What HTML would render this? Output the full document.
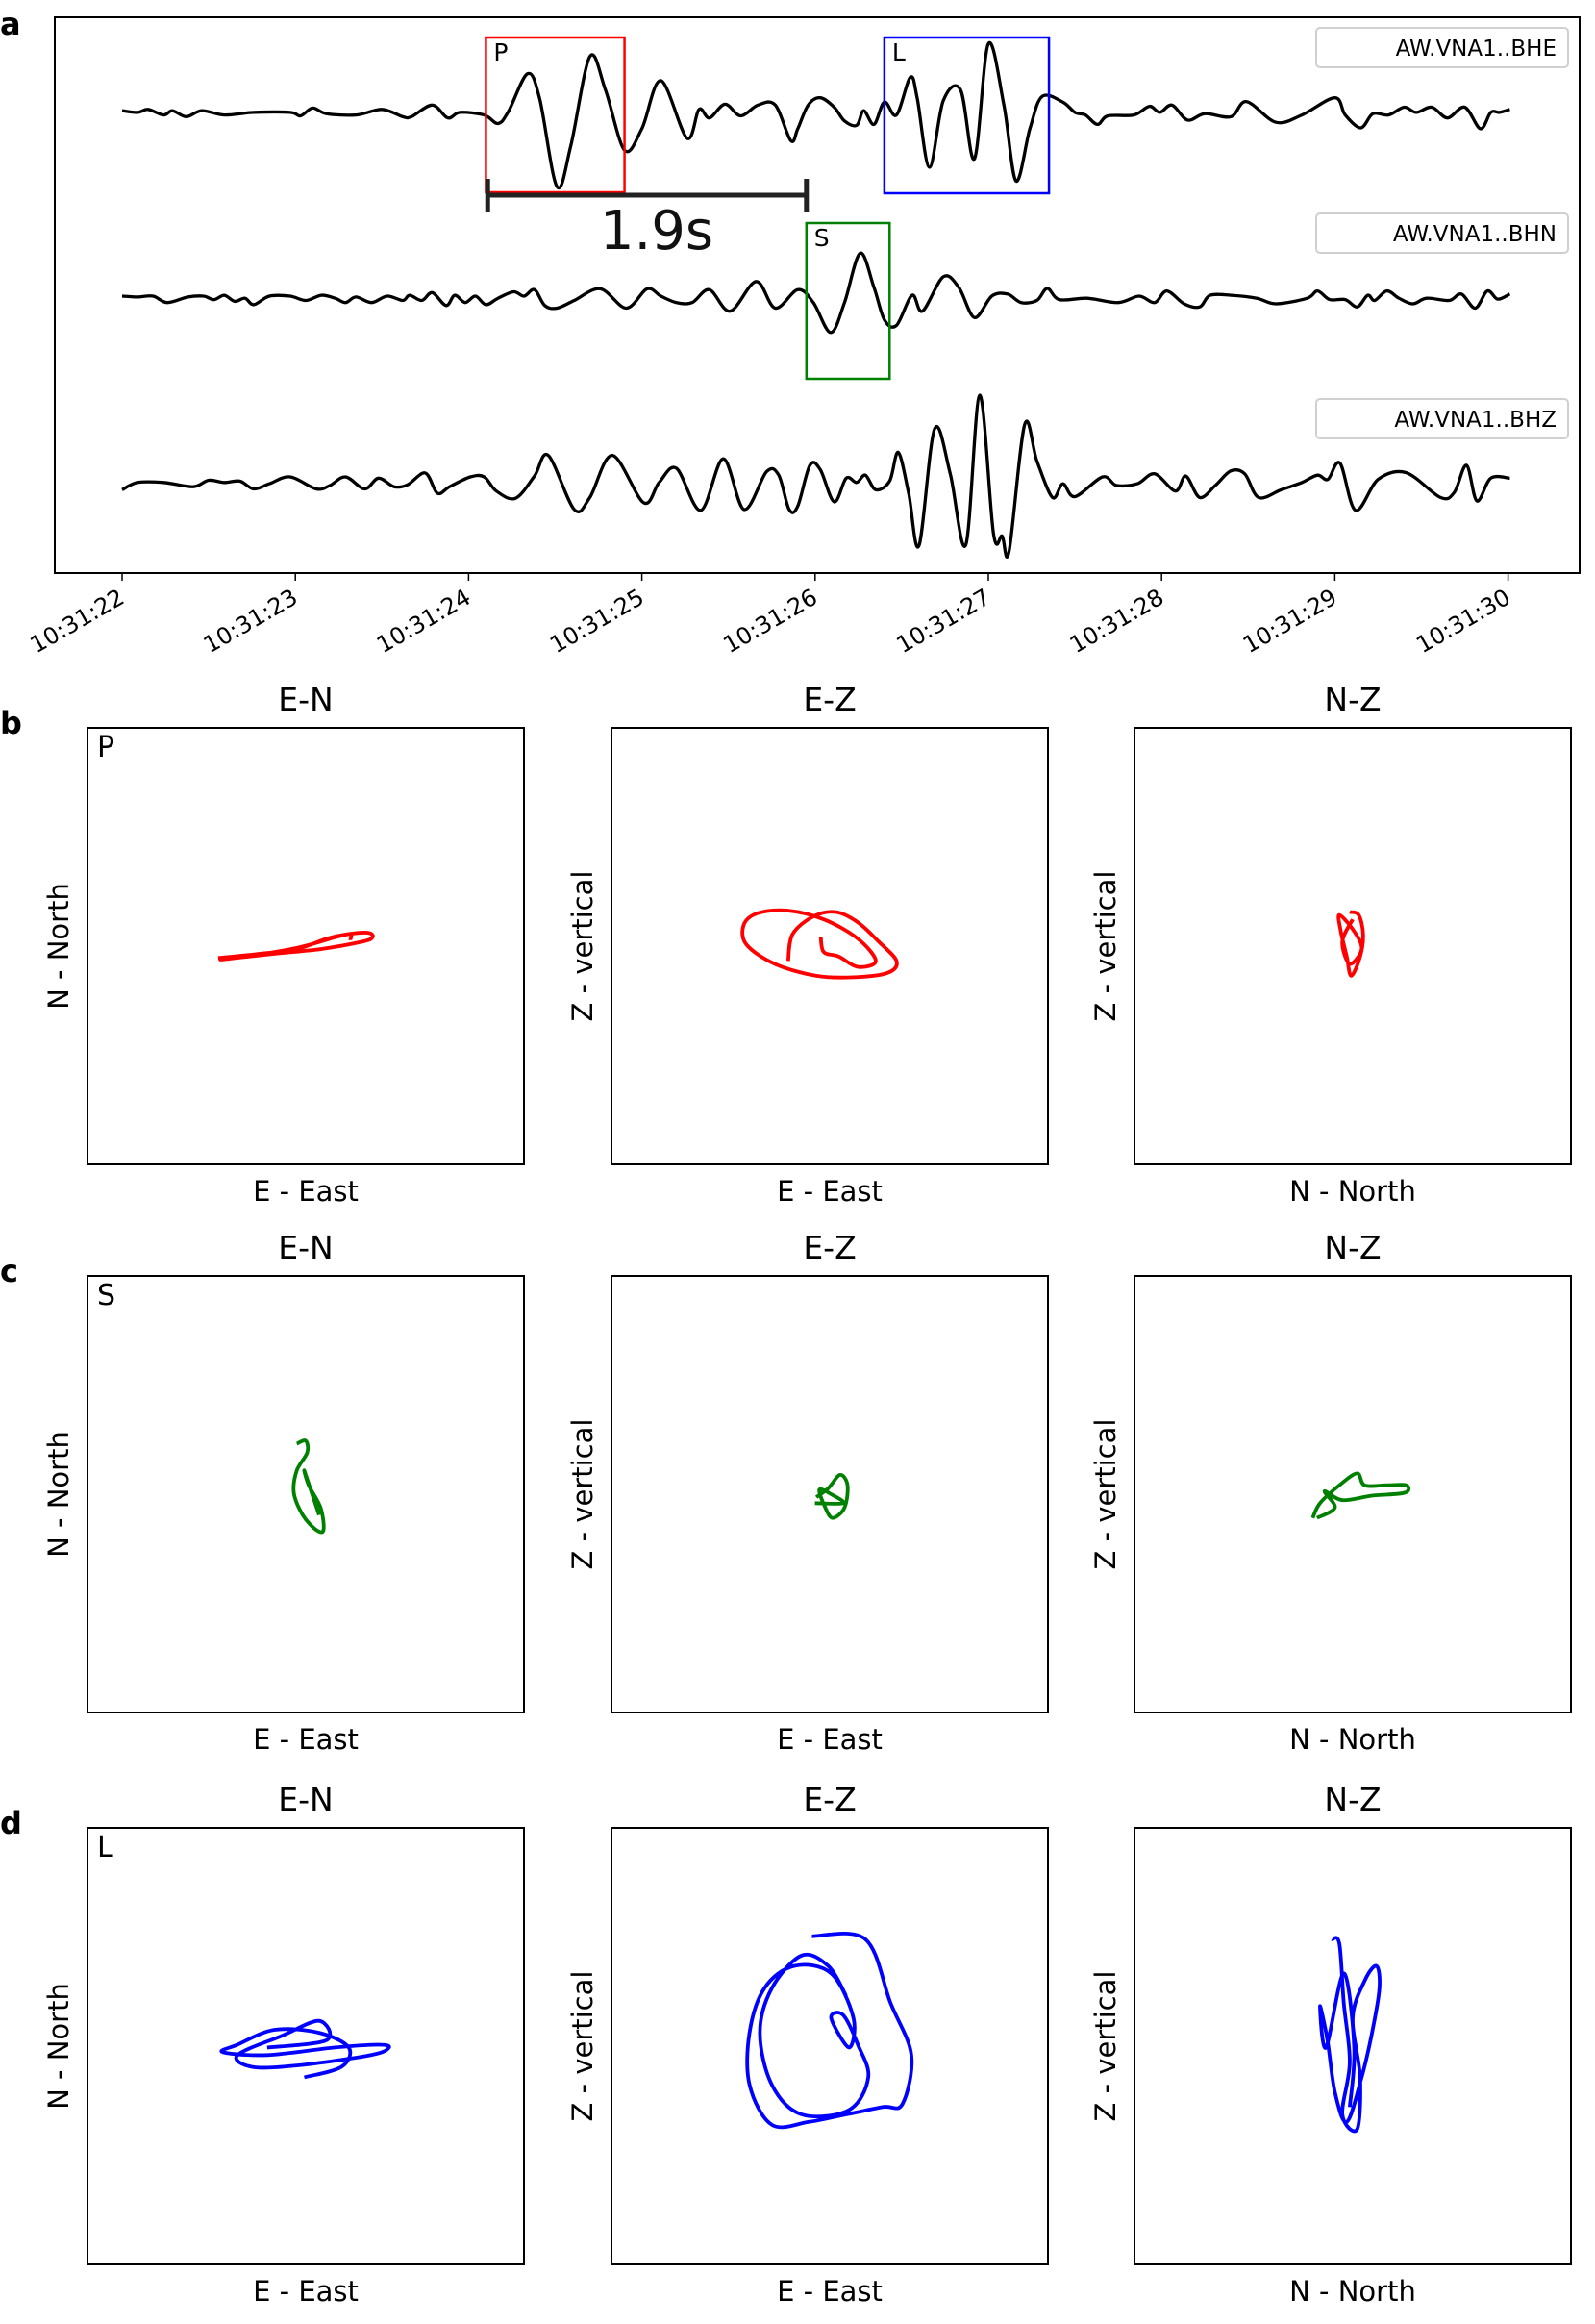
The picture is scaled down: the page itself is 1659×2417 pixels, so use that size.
<!DOCTYPE html>
<html><head><meta charset="utf-8"><style>
html,body{margin:0;padding:0;background:#fff;}
svg{display:block;font-family:"DejaVu Sans","Liberation Sans",sans-serif;}
</style></head><body>
<svg id="fig" width="1659" height="2417" viewBox="0 0 1659 2417" xmlns="http://www.w3.org/2000/svg">
<text x="0" y="36" font-size="32" font-weight="bold">a</text>
<rect x="57" y="18" width="1586" height="578" fill="none" stroke="#000" stroke-width="2"/>
<g id="ticks"></g>
<g id="traces"></g>
<g id="annot"></g>
<g id="pol"></g>
</svg>
<script>
const NS="http://www.w3.org/2000/svg";
const tickLabels=["10:31:22","10:31:23","10:31:24","10:31:25","10:31:26","10:31:27","10:31:28","10:31:29","10:31:30"];
const traceNames=["AW.VNA1..BHE","AW.VNA1..BHN","AW.VNA1..BHZ"];
const bheT=[0,0.09,0.15,0.24,0.29,0.37,0.46,0.59,0.76,0.97,1.03,1.10,1.18,1.35,1.50,1.62,1.67,1.79,1.88,1.95,2.09,2.17,2.23,2.34,2.41,2.51,2.59,2.70,2.79,2.90,3.00,3.11,3.26,3.33,3.39,3.48,3.57,3.67,3.77,3.86,3.90,3.96,4.03,4.11,4.17,4.24,4.28,4.34,4.40,4.47,4.55,4.59,4.66,4.74,4.84,4.92,5.00,5.09,5.16,5.24,5.31,5.43,5.50,5.56,5.63,5.69,5.84,5.93,5.99,6.06,6.15,6.25,6.40,6.49,6.66,6.81,7.00,7.06,7.15,7.22,7.31,7.40,7.47,7.56,7.65,7.75,7.84,7.90,7.95,8.01];
const bheA=[0.9,-0.9,2.2,-3.6,0.9,-5.4,0.9,-3.6,-0.9,-0.9,-4.5,3.6,-2.2,-3.6,2.2,-5.4,-5.4,6.7,-6.7,-0.9,-3.6,-12.5,0,39.3,13.4,-78.1,-35.7,57.1,22.3,-40.2,-17.9,32.1,-27.7,2.2,-6.7,7.6,-4.5,6.7,6.7,-30.4,-17.9,6.7,14.3,4.5,-9.8,-14.3,0.9,-13.4,9.8,-3.6,35.7,13.4,-58.0,11.2,22.3,-49.1,70.5,6.7,-72.3,-17.9,15.6,9.8,-0.9,-3.6,-13.4,-4.5,-3.6,5.4,-0.9,6.7,-8.9,-2.2,-5.4,10.3,-11.2,-3.6,14.3,-3.6,-17.0,-2.2,-3.6,4.5,-0.9,4.5,-6.7,4.5,-17.9,-0.9,-0.9,2.2];
const bhnT=[0,0.09,0.18,0.26,0.38,0.47,0.53,0.59,0.65,0.71,0.76,0.85,0.97,1.06,1.15,1.23,1.29,1.35,1.44,1.53,1.62,1.66,1.73,1.79,1.87,1.92,1.98,2.04,2.10,2.17,2.26,2.32,2.38,2.44,2.51,2.61,2.76,2.91,3.03,3.11,3.20,3.29,3.39,3.51,3.66,3.77,3.90,3.99,4.09,4.17,4.26,4.34,4.40,4.47,4.56,4.62,4.74,4.83,4.92,5.02,5.11,5.19,5.28,5.34,5.41,5.57,5.75,5.87,5.96,6.03,6.13,6.22,6.28,6.40,6.55,6.66,6.84,6.90,6.97,7.06,7.13,7.19,7.23,7.30,7.37,7.45,7.53,7.66,7.73,7.81,7.88,7.94,8.01];
const bhnA=[0,-0.9,0,-6.7,-0.9,0,-3.6,0.9,-5.4,-2.2,-8.9,0,0,-4.5,0.9,-2.2,-6.7,-0.9,-6.7,0,-4.5,0.9,-4.5,3.6,-9.8,0.9,-6.7,0,-8.9,-2.2,4.5,0,6.7,-9.8,-12.5,-4.5,7.6,-12.5,7.6,0,-6.7,-6.7,6.7,-15.6,15.2,-12.5,6.7,-6.7,-37.9,-6.7,44.6,8.9,-24.6,-30.4,0.9,-15.6,20.1,8.9,-22.3,0,2.2,-6.7,-4.5,8.0,-3.6,-2.2,-6.7,0,-6.7,5.4,-8.0,-11.2,0.9,0.9,-2.2,-8.0,-2.2,5.4,-3.6,-3.6,-11.2,0.9,-4.5,5.4,-2.2,-8.0,-2.2,-4.5,2.2,-12.5,5.4,-3.1,2.2];
const bhzT=[0,0.09,0.24,0.41,0.50,0.59,0.68,0.76,0.85,0.97,1.12,1.20,1.29,1.40,1.48,1.57,1.65,1.75,1.82,1.89,2.01,2.09,2.16,2.27,2.38,2.46,2.61,2.70,2.83,3.01,3.10,3.20,3.34,3.47,3.59,3.72,3.79,3.85,3.90,3.97,4.03,4.11,4.18,4.24,4.29,4.35,4.43,4.48,4.54,4.60,4.69,4.78,4.87,4.95,5.03,5.08,5.12,5.21,5.28,5.37,5.43,5.50,5.66,5.74,5.86,5.96,6.08,6.14,6.22,6.31,6.40,6.48,6.56,6.69,6.81,6.90,6.96,7.03,7.12,7.25,7.41,7.61,7.69,7.76,7.82,7.90,8.01];
const bhzA=[-5.4,2.2,2.2,-2.2,4.5,2.2,3.6,-4.5,0.9,8.0,-4.5,-0.9,8.0,-4.5,6.7,-2.2,0,12.1,-8.9,-2.2,8.0,8.0,-6.7,-14.3,8.9,30.4,-25.9,-13.4,30.4,-18.8,2.2,17.0,-26.8,26.8,-25.9,13.4,9.8,-25.9,-22.3,20.1,15.6,-17.9,6.7,2.2,9.8,-5.4,3.6,33.5,-8.9,-63.4,58.0,11.2,-62.5,92.9,-51.3,-53.6,-69.2,62.5,24.6,-13.4,0.9,-12.5,8.0,-0.9,0.9,11.2,-6.7,8.9,-13.4,-0.9,14.3,11.2,-13.4,-5.4,2.2,9.8,5.4,22.3,-26.8,5.4,12.5,-13.4,-8.0,20.1,-17.0,6.7,6.7];
const boxStart=[2.10,4.40,3.95];
const boxEnd=[2.90,5.35,4.43];
const boxLabels=["P","L","S"];
const lagStart=2.11, lagEnd=3.95;
const lagLabel="1.9s";

const pTitles=["E-N","E-Z","N-Z"];
const pXlabels=["E - East","E - East","N - North"];
const pYlabels=["N - North","Z - vertical","Z - vertical"];
const rowLetters=["b","c","d"];
const rowPhase=["P","S","L"];
const rowColors=["#ff0000","#008000","#0000ff"];
const bENx=[-59,-30,-6,14,28,42,45,38,10,-20,-57,-40,-5,20,30,30];
const bENy=[-8,-5,-2,5,8,9,6,3,-2,-5,-9,-7,-1,6,8,4];
const bEZx=[-28,-25,-11,4,19,33,45,39,16,-9,-37,-56,-58,-49,-29,-4,19,31,19,6,-4,-6];
const bEZy=[-10,8,20,23,16,3,-10,-18,-21,-20,-12,1,14,22,24,18,5,-10,-14,-7,-4,6];
const bNZx=[-2,4,7,5,-1,-4,-8,-9,1,6,-2,-7,0];
const bNZy=[23,21,8,-7,-20,-7,10,21,10,-2,-12,3,18];
const cENx=[-6,0,1,-6,-8,-2,7,12,10,2,-1,4,9];
const cENy=[34,36,28,16,1,-14,-24,-24,-9,6,16,1,-14];
const cEZx=[-9,-1,7,12,10,2,-3,-7,1,9,-10];
const cEZy=[-2,4,13,6,-9,-16,-9,3,0,-6,-6];
const cNZx=[-27,-22,-9,3,8,23,36,35,13,-7,-19,-12,-24];
const cNZy=[-16,-6,6,14,6,6,6,1,-1,-4,2,-9,-16];
const dENx=[-1,24,29,9,-21,-46,-56,-26,19,49,56,44,-6,-36,-46,-16,9,14,-26];
const dENy=[-21,-14,-1,9,11,1,-4,-6,-1,1,-1,-6,-13,-14,-6,7,17,4,-1];
const dEZx=[-12,24,41,55,49,36,11,-14,-39,-54,-54,-44,-24,1,16,13,1,9,19,26,13,-19,-39,-47,-39,-19,-1,11];
const dEZy=[74,72,29,-6,-39,-41,-46,-51,-53,-26,9,39,54,49,19,-1,19,21,1,-21,-43,-46,-26,9,39,61,54,34];
const dNZx=[-14,-9,-6,-2,-7,3,5,0,8,16,18,13,6,-4,-12,-17,-22,-18,-6,1,-2];
const dNZy=[72,69,29,-11,-46,-56,-21,19,44,54,39,9,-21,-51,-31,4,27,-1,49,-1,-41];
const polX=[[bENx,bEZx,bNZx],[cENx,cEZx,cNZx],[dENx,dEZx,dNZx]];
const polY=[[bENy,bEZy,bNZy],[cENy,cEZy,cNZy],[dENy,dEZy,dNZy]];

function mk(tag,attrs,parent){const e=document.createElementNS(NS,tag);for(const k in attrs)e.setAttribute(k,attrs[k]);parent.appendChild(e);return e;}
const tx=t=>127+t*180.2;
const baseY=[116,308,504];
const ampScale=1.0;
function smooth(pts){let d="M"+pts[0][0].toFixed(1)+","+pts[0][1].toFixed(1);
 for(let i=0;i<pts.length-1;i++){const p0=pts[Math.max(0,i-1)],p1=pts[i],p2=pts[i+1],p3=pts[Math.min(pts.length-1,i+2)];
 const c1=[p1[0]+(p2[0]-p0[0])/6,p1[1]+(p2[1]-p0[1])/6],c2=[p2[0]-(p3[0]-p1[0])/6,p2[1]-(p3[1]-p1[1])/6];
 d+=" C"+c1[0].toFixed(1)+","+c1[1].toFixed(1)+" "+c2[0].toFixed(1)+","+c2[1].toFixed(1)+" "+p2[0].toFixed(1)+","+p2[1].toFixed(1);}
 return d;}
// ticks
const tg=document.getElementById('ticks');
tickLabels.forEach((lab,i)=>{const x=tx(i);
 const l=mk('line',{x1:x,y1:596,x2:x,y2:604,stroke:'#000','stroke-width':1.5},tg);
 
 
 const t=mk('text',{x:x+4,y:626,'font-size':24,'text-anchor':'end',transform:`rotate(-30 ${x+4} 626)`},tg);
 t.textContent=lab;
 
 
});
// traces
const trg=document.getElementById('traces');
const TT=[bheT,bhnT,bhzT],AA=[bheA,bhnA,bhzA];
const legY=[29,222,415];
TT.forEach((T,k)=>{const pts=T.map((t,i)=>[tx(t),baseY[k]-AA[k][i]*ampScale]);
 const p=mk('path',{d:smooth(pts),fill:'none',stroke:'#000','stroke-width':3.3,'stroke-linejoin':'round'},trg);
 
 
 const r=mk('rect',{x:1369,y:legY[k],width:262,height:41,rx:4,fill:'#fff',stroke:'#d0d0d0','stroke-width':2},trg);
 
 
 const t=mk('text',{x:1619,y:legY[k]+29,'font-size':23,'text-anchor':'end'},trg);
 t.textContent=traceNames[k];
 
 
});
// annotations
const ag=document.getElementById('annot');
const boxCol=["#ff0000","#0000ff","#008000"];
const boxY=[[39,200],[39,201],[232,394]];
boxStart.forEach((s,i)=>{const x1=tx(s),x2=tx(boxEnd[i]);
 const r=mk('rect',{x:x1,y:boxY[i][0],width:x2-x1,height:boxY[i][1]-boxY[i][0],fill:'none',stroke:boxCol[i],'stroke-width':2.5},ag);
 
 
 const t=mk('text',{x:x1+8,y:boxY[i][0]+24,'font-size':25},ag);
 t.textContent=boxLabels[i];
 
 
});
{const x1=tx(lagStart),x2=tx(lagEnd);
 const g=mk('g',{stroke:'#222','stroke-width':5},ag);
 
 
 mk('line',{x1:x1,y1:203,x2:x2,y2:203},g);mk('line',{x1:x1,y1:186,x2:x1,y2:220},g);mk('line',{x1:x2,y1:186,x2:x2,y2:220},g);
 const t=mk('text',{x:(x1+x2)/2+10,y:259,'font-size':56,'text-anchor':'middle',fill:'#111'},ag);
 t.textContent=lagLabel;
 
 
}
// polarization panels
const pg=document.getElementById('pol');
const colX=[91,636,1180],rowY=[757,1327,1901],S=454;
const dom=147;
for(let r=0;r<3;r++){
 const lt=mk('text',{x:0,y:rowY[r]+6,'font-size':32,'font-weight':'bold'},pg);
 lt.textContent=rowLetters[r];
 
 
 for(let c=0;c<3;c++){const x0=colX[c],y0=rowY[r];
  const sx=v=>x0+S/2+v/dom*(S/2), sy=v=>y0+S/2-v/dom*(S/2);
  const rc=mk('rect',{x:x0,y:y0,width:S,height:S,fill:'none',stroke:'#000','stroke-width':2},pg);
  
  
  const ti=mk('text',{x:x0+S/2,y:y0-18,'font-size':33,'text-anchor':'middle'},pg);
  ti.textContent=pTitles[c];
  
  
  const xl=mk('text',{x:x0+S/2,y:y0+S+38,'font-size':29,'text-anchor':'middle'},pg);
  xl.textContent=pXlabels[c];
  
  
  const yx=x0-20, yy=y0+S/2;
  const yl=mk('text',{x:yx,y:yy,'font-size':29,'text-anchor':'middle',transform:`rotate(-90 ${yx} ${yy})`},pg);
  yl.textContent=pYlabels[c];
  
  
  if(c===0){const ph=mk('text',{x:x0+10,y:y0+30,'font-size':30},pg);
   ph.textContent=rowPhase[r];
   
   }
  const X=polX[r][c],Y=polY[r][c];
  const pts=X.map((v,i)=>[sx(v),sy(Y[i])]);
  const p=mk('path',{d:smooth(pts),fill:'none',stroke:rowColors[r],'stroke-width':3.8,'stroke-linejoin':'round'},pg);
  
  
 }
}
</script>
</body></html>
